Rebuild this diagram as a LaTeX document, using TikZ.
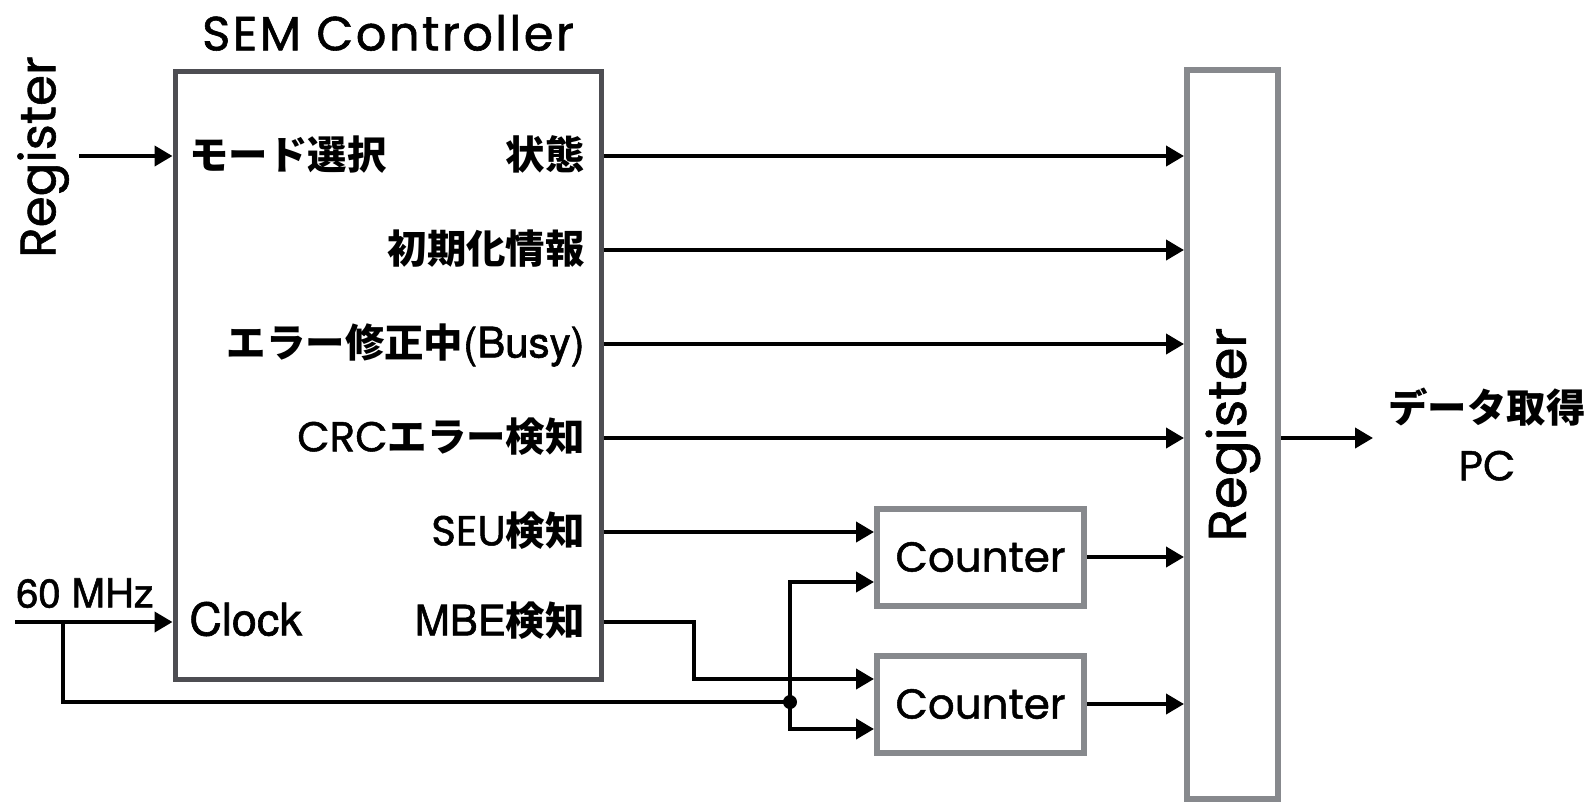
\documentclass[tikz,border=0pt]{standalone}
\usepackage{fontspec}
\setmainfont{Poppins}[FakeBold=1.2]
\newfontfamily\jpfont{Noto Sans CJK JP}
\newfontfamily\helfont{TeX Gyre Heros}[FakeBold=1.4]
\newcommand{\jtext}[1]{{\jpfont\bfseries #1}}
\newcommand{\htext}[1]{{\helfont #1}}
\usetikzlibrary{arrows.meta,positioning,calc}
\definecolor{semgray}{RGB}{77,77,82}
\definecolor{reggray}{RGB}{135,137,141}

\begin{document}
\begin{tikzpicture}[x=0.5pt,y=-0.5pt,
  lbl/.style={font=\fontsize{19.7}{24}\selectfont,inner sep=0pt,text height=1.5em,text depth=0.16em},
  ctrlbox/.style={draw=semgray,line width=2.5pt,minimum width=213pt,minimum height=304pt,inner sep=0pt},
  regbox/.style={draw=reggray,line width=3pt,minimum width=45.5pt,minimum height=364.5pt,inner sep=0pt},
  cntbox/.style={draw=reggray,line width=3pt,minimum width=103.5pt,minimum height=48.5pt,inner sep=0pt,
    font=\fontsize{21}{25}\selectfont},
  wire/.style={line width=2pt,-{Triangle[length=9pt,width=10pt]}},
  net/.style={line width=2pt}]
  \useasboundingbox (0,0) rectangle (1586,805);

  % blocks
  \node[lbl,font=\fontsize{24}{28}\selectfont\addfontfeature{LetterSpace=5}] (title) at (388,37) {SEM Controller};
  \node[ctrlbox] (sem) at (388,375) {};
  \node[regbox] (reg) at (1232.5,434.5) {};
  \node[lbl,rotate=90,font=\fontsize{26.5}{30}\selectfont] (regname) at (reg.center) {Register};
  \node[lbl,rotate=90,font=\fontsize{25}{30}\selectfont] (regsrc) at (42,157) {Register};
  \node[cntbox] (cnta) at (980.5,557) {Counter};
  \node[cntbox] (cntb) at (980.5,704) {Counter};

  % ports of the controller
  \node[lbl,anchor=west] (mode) at (189,156) {\jtext{モード選択}};
  \node[lbl,anchor=west] (clk) at (189,622) {\htext{\fontsize{22.5}{26}\selectfont Clock}};
  \node[lbl,anchor=east] (stat) at (585,156) {\jtext{状態}};
  \node[lbl,anchor=east] (init) at (585,250) {\jtext{初期化情報}};
  \node[lbl,anchor=east] (busy) at (585,344) {\jtext{エラー修正中}\htext{\fontsize{21}{25}\selectfont(Busy)}};
  \node[lbl,anchor=east] (crc) at (585,438) {{\fontsize{21}{25}\selectfont CRC}\jtext{エラー検知}};
  \node[lbl,anchor=east] (seu) at (585,532) {{\fontsize{21}{25}\selectfont SEU}\jtext{検知}};
  \node[lbl,anchor=east] (mbe) at (585,622) {\htext{\fontsize{21}{25}\selectfont MBE}\jtext{検知}};
  \node[lbl] (freq) at (85,594) {\htext{\fontsize{20}{24}\selectfont 60 MHz}};
  \node[lbl] (get) at (1487,409) {\jtext{データ取得}};
  \node[lbl] (pc) at (1487,467) {\fontsize{21}{25}\selectfont PC};

  \coordinate (regout) at (79,156);
  \coordinate (clkin) at (15,622);
  \coordinate (split) at (63,622);
  \coordinate (jog) at (694,622);
  \coordinate (dot) at (790,702);
  \coordinate (pcend) at (1373,438);

  % connections
  \draw[wire] (regout) -- (sem.west |- mode);
  \draw[wire] (clkin) -- (sem.west |- clk);
  \foreach \s in {stat,init,busy,crc}
    \draw[wire] (sem.east |- \s) -- (reg.west |- \s);
  \draw[wire] (sem.east |- seu) -- ($(cnta.west)+(0,-25)$);
  \draw[wire] (sem.east |- mbe) -- (jog) |- ($(cntb.west)+(0,-25)$);
  \draw[net] (split) |- (dot);
  \fill (dot) circle[radius=3.5pt];
  \draw[wire] (dot) |- ($(cnta.west)+(0,25)$);
  \draw[wire] (dot) |- ($(cntb.west)+(0,25)$);
  \draw[wire] (cnta.east) -- (reg.west |- cnta.east);
  \draw[wire] (cntb.east) -- (reg.west |- cntb.east);
  \draw[wire] (reg.east |- crc) -- (pcend);
\end{tikzpicture}
\end{document}
